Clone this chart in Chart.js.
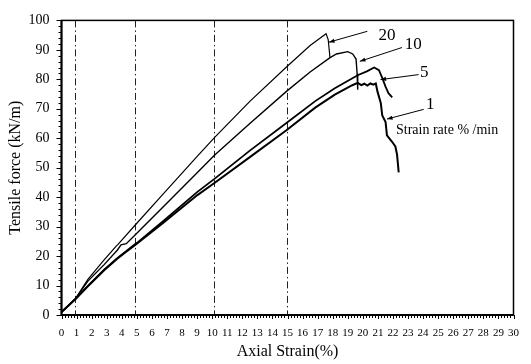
<!DOCTYPE html>
<html>
<head>
<meta charset="utf-8">
<script src="https://cdn.jsdelivr.net/npm/chart.js@4"></script>
<style>
  body { margin: 0; background: #fff; }
  canvas { display: block; }
</style>
</head>
<body>
<canvas id="grafico" width="531" height="364"></canvas>
<script>
  // strain rate % /min -> strain (%) and tensile force (kN/m)
  const strain20 = [0, 0.92, 1.75, 2.83, 3.6, 3.75, 4.85, 6.74, 9.02, 10.15, 12.5, 14.93, 16.5, 17.56, 17.7, 17.82];
  const force20  = [1, 5.5, 12.1, 18.7, 23.2, 24.0, 30.3, 41.0, 53.9, 60.2, 72.5, 84.2, 91.5, 95.5, 93.5, 87.3];

  const strain10 = [0, 0.92, 1.75, 2.83, 3.7, 3.95, 4.3, 4.85, 6.74, 9.02, 10.15, 12.5, 14.93, 16.5, 17.8, 18.25, 19.0, 19.33, 19.55, 19.62, 19.66];
  const force10  = [1, 5.5, 11.5, 17.1, 22.0, 23.8, 24.2, 27.0, 36.7, 48.4, 54.2, 65.0, 75.9, 82.5, 87.3, 88.6, 89.4, 88.6, 86.9, 82.0, 76.5];

  const strain5 = [0, 0.92, 1.75, 2.83, 3.7, 4.25, 4.85, 5.05, 5.27, 6.74, 9.02, 10.15, 12.5, 14.93, 16.84, 18.14, 19.66, 20.3, 20.75, 21.07, 21.3, 21.5, 21.7, 21.95];
  const force5  = [1, 5.5, 9.9, 15.4, 19.3, 21.5, 23.9, 24.6, 25.6, 31.8, 41.8, 46.2, 55.8, 65.2, 72.6, 77.0, 81.4, 82.8, 84.0, 83.1, 80.3, 77.6, 75.3, 73.9];

  const strain1 = [0, 0.92, 1.75, 2.83, 3.7, 4.25, 4.85, 6.74, 9.02, 10.15, 12.5, 14.93, 16.84, 18.14, 19.3, 19.66, 19.9, 20.1, 20.3, 20.5, 20.7, 20.86, 20.97, 21.19, 21.29, 21.51, 21.6, 21.94, 22.16, 22.27, 22.38];
  const force1  = [1, 5.3, 9.7, 15.2, 19.1, 21.3, 23.6, 31.2, 40.7, 44.8, 53.6, 62.7, 70.4, 74.8, 78.0, 78.8, 78.0, 78.5, 77.9, 78.6, 78.2, 78.6, 75.9, 72.0, 67.7, 65.5, 61.0, 58.8, 57.2, 54.5, 48.4];

  const guideStrains = [0.9, 4.9, 10.15, 14.95];

  // callouts: label, text position, arrow tail, arrow head (data units)
  const rateLabels = ['20', '10', '5', '1'];
  const labelAt = [[21.6, 95.0], [23.35, 91.7], [24.07, 82.2], [24.48, 71.5]];
  const arrowFrom = [[20.3, 96.3], [22.6, 90.8], [23.7, 81.6], [24.04, 69.8]];
  const arrowTo = [[17.75, 92.6], [19.8, 86.1], [21.17, 79.9], [21.6, 66.5]];
  const noteText = 'Strain rate % /min';
  const noteAt = [22.2, 62.7];

  const serif = '"Liberation Serif", "Times New Roman", serif';

  function pts(xs, ys) {
    return xs.map((x, i) => ({ x: x, y: ys[i] }));
  }

  const decor = {
    id: 'decor',
    beforeDatasetsDraw(chart) {
      const { ctx, chartArea: a, scales: { x } } = chart;
      ctx.save();
      ctx.strokeStyle = '#222';
      ctx.lineWidth = 1;
      ctx.setLineDash([7, 3, 1.5, 3]);
      guideStrains.forEach(s => {
        const px = Math.round(x.getPixelForValue(s)) + 0.5;
        ctx.beginPath();
        ctx.moveTo(px, a.top);
        ctx.lineTo(px, a.bottom);
        ctx.stroke();
      });
      ctx.restore();
    },
    afterDraw(chart) {
      const { ctx, chartArea: a, scales: { x, y } } = chart;
      ctx.save();
      ctx.strokeStyle = '#000';
      // frame
      ctx.lineWidth = 1.5;
      ctx.strokeRect(a.left, a.top, a.right - a.left, a.bottom - a.top);
      ctx.lineWidth = 2;
      ctx.beginPath();
      ctx.moveTo(a.left, a.top);
      ctx.lineTo(a.left, a.bottom);
      ctx.lineTo(a.right, a.bottom);
      ctx.stroke();
      // x ticks every 0.2
      ctx.lineWidth = 1;
      for (let i = 0; i <= 150; i++) {
        const px = Math.round(x.getPixelForValue(i * 0.2)) + 0.5;
        const len = i % 5 === 0 ? 4 : 3;
        ctx.beginPath();
        ctx.moveTo(px, a.bottom);
        ctx.lineTo(px, a.bottom + len);
        ctx.stroke();
      }
      // y ticks every 2
      for (let i = 0; i <= 50; i++) {
        const py = Math.round(y.getPixelForValue(i * 2)) + 0.5;
        const len = i % 5 === 0 ? 5 : 3;
        ctx.beginPath();
        ctx.moveTo(a.left, py);
        ctx.lineTo(a.left - len, py);
        ctx.stroke();
      }
      // callouts
      ctx.fillStyle = '#000';
      ctx.font = '17px ' + serif;
      ctx.textAlign = 'center';
      ctx.textBaseline = 'middle';
      rateLabels.forEach((t, i) => {
        ctx.fillText(t, x.getPixelForValue(labelAt[i][0]), y.getPixelForValue(labelAt[i][1]));
        const x0 = x.getPixelForValue(arrowFrom[i][0]), y0 = y.getPixelForValue(arrowFrom[i][1]);
        const x1 = x.getPixelForValue(arrowTo[i][0]), y1 = y.getPixelForValue(arrowTo[i][1]);
        ctx.lineWidth = 1;
        ctx.beginPath();
        ctx.moveTo(x0, y0);
        ctx.lineTo(x1, y1);
        ctx.stroke();
        const ang = Math.atan2(y1 - y0, x1 - x0);
        ctx.beginPath();
        ctx.moveTo(x1, y1);
        ctx.lineTo(x1 - 6 * Math.cos(ang - 0.35), y1 - 6 * Math.sin(ang - 0.35));
        ctx.lineTo(x1 - 6 * Math.cos(ang + 0.35), y1 - 6 * Math.sin(ang + 0.35));
        ctx.closePath();
        ctx.fill();
      });
      ctx.font = '14px ' + serif;
      ctx.textAlign = 'left';
      ctx.fillText(noteText, x.getPixelForValue(noteAt[0]), y.getPixelForValue(noteAt[1]));
      ctx.restore();
    }
  };

  const curva = (xs, ys, w) => ({
    data: pts(xs, ys),
    borderColor: '#000',
    borderWidth: w,
    pointRadius: 0,
    tension: 0,
    fill: false
  });

  new Chart(document.getElementById('grafico'), {
    type: 'line',
    data: {
      datasets: [
        curva(strain20, force20, 1.2),
        curva(strain10, force10, 1.4),
        curva(strain5, force5, 1.8),
        curva(strain1, force1, 2)
      ]
    },
    options: {
      responsive: false,
      animation: false,
      layout: { padding: { top: 12, right: 9, left: 0, bottom: 0 } },
      plugins: { legend: { display: false }, tooltip: { enabled: false } },
      scales: {
        x: {
          type: 'linear',
          min: 0,
          max: 30,
          grid: { display: false, drawTicks: false },
          border: { display: false },
          ticks: { stepSize: 1, autoSkip: false, maxRotation: 0, padding: 12, color: '#000', font: { family: serif, size: 11 } },
          title: { display: true, text: 'Axial Strain(%)', color: '#000', padding: { top: 0, bottom: 3 }, font: { family: serif, size: 16 } },
          afterFit(scale) { scale.height = 49; }
        },
        y: {
          min: 0,
          max: 100,
          grid: { display: false, drawTicks: false },
          border: { display: false },
          ticks: { stepSize: 10, padding: 12, color: '#000', font: { family: serif, size: 14 } },
          title: { display: true, text: 'Tensile force (kN/m)', color: '#000', padding: { top: 6, bottom: 0 }, font: { family: serif, size: 16 } },
          afterFit(scale) { scale.width = 61.5; }
        }
      }
    },
    plugins: [decor]
  });
</script>
</body>
</html>
